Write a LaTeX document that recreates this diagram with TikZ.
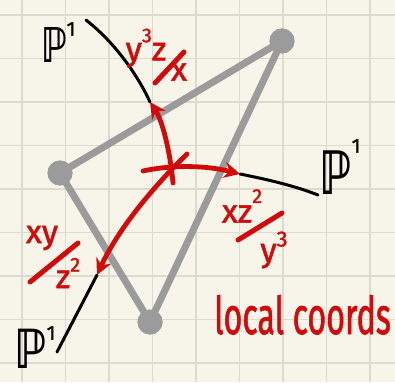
\documentclass[tikz,border=0pt]{standalone}
\usepackage{fontspec}
\usepackage{graphicx}
\setmainfont{Fira Sans}
\newfontfamily\hand[FakeBold=1.5]{Fira Sans}
\newfontfamily\dbl{DejaVu Sans}
\usetikzlibrary{arrows.meta}
\definecolor{paper}{HTML}{F7F5E9}
\definecolor{gridc}{HTML}{DDDBD0}
\definecolor{tri}{HTML}{9B9B9B}
\definecolor{ink}{HTML}{D20A0A}
\newcommand{\bbP}[2]{\raisebox{0pt}[\height][0pt]{\scalebox{#1}[1]{\dbl\bfseries\fontsize{#2}{#2}\selectfont ℙ}}}
\begin{document}
\begin{tikzpicture}[x=1pt,y=-1pt,
  gridline/.style={draw=gridc,line width=1.3pt},
  edge/.style={draw=tri,line width=7pt},
  vert/.style={circle,fill=tri,minimum size=25pt,inner sep=0pt},
  curveb/.style={draw=black,line width=3pt,line cap=round},
  curver/.style={draw=ink,line width=4.8pt,line cap=round},
  arr/.style={-{Stealth[length=16pt,width=16pt]}},
  redlbl/.style={text=ink,font=\hand\fontsize{33}{33}\selectfont,inner sep=0pt},
  slashr/.style={draw=ink,line width=5pt,line cap=round},
  plabel/.style={inner sep=0pt,anchor=base},
  onelbl/.style={inner sep=0pt,font=\hand\fontsize{20}{20}\selectfont}
]
\useasboundingbox (0,0) rectangle (395,382);
\fill[paper] (0,0) rectangle (395,382);
\foreach \i in {0,...,8} {
  \draw[gridline] ({22+43.5*\i},0) -- ({22+43.5*\i},382);
  \draw[gridline] (0,{15+43.5*\i}) -- (395,{15+43.5*\i});
}
% triangle
\node[vert] (A) at (282,41) {};
\node[vert] (B) at (60,173) {};
\node[vert] (C) at (150,322) {};
\draw[edge] (A.center) -- (B.center) -- (C.center) -- cycle;
\node[vert] at (A) {};
\node[vert] at (B) {};
\node[vert] at (C) {};
% curve points
\coordinate (t0) at (86,20);
\coordinate (t1) at (150,102);
\coordinate (v0) at (173,183);
\coordinate (h0) at (143,171);
\coordinate (h1) at (240,174);
\coordinate (r1) at (318,195);
\coordinate (d0) at (187,154);
\coordinate (d1) at (97,275);
\coordinate (b1) at (57,352);
% black parts
\draw[curveb] (t0) .. controls (118,45) and (140,80) .. (t1);
\draw[curveb] (h1) .. controls (270,180) and (295,186) .. (r1);
\draw[curveb] (d1) -- (b1);
% red parts
\draw[curver,arr] (v0) .. controls (170,150) and (162,120) .. (t1);
\draw[curver,arr] (h0) .. controls (170,165) and (205,165) .. (h1);
\draw[curver,arr] (d0) .. controls (160,180) and (120,225) .. (d1);
% red fraction labels
\node[redlbl] (n1) at (146,48) {y\raisebox{0.55em}{\fontsize{20}{20}\selectfont 3}z};
\node[redlbl] (q1) at (179,72) {x};
\coordinate (s1a) at (155,83);
\coordinate (s1b) at (184,52);
\draw[slashr] (s1a) -- (s1b);

\node[redlbl] (n2) at (242,206) {xz\raisebox{0.6em}{\fontsize{20}{20}\selectfont 2}};
\node[redlbl] (q2) at (274,250) {y\raisebox{0.45em}{\fontsize{22}{22}\selectfont 3}};
\coordinate (s2a) at (238,240);
\coordinate (s2b) at (282,213);
\draw[slashr] (s2a) -- (s2b);

\node[redlbl] (n3) at (42,238) {xy};
\node[redlbl] (q3) at (68,273) {z\raisebox{0.5em}{\fontsize{20}{20}\selectfont 2}};
\coordinate (s3a) at (30,282);
\coordinate (s3b) at (78,243);
\draw[slashr] (s3a) -- (s3b);

% P^1 labels
\node[plabel] (p1) at (54,63) {\bbP{0.72}{48}};
\node[onelbl] (o1) at (71,29) {1};
\node[plabel] (p2) at (336,194) {\bbP{0.72}{60}};
\node[onelbl] (o2) at (356,146) {1};
\node[plabel] (p3) at (31,368) {\bbP{0.8}{54}};
\node[onelbl] (o3) at (51,333) {1};

% caption
\node[text=ink,font=\hand\fontsize{52}{52}\selectfont,inner sep=0pt,anchor=base west] (cap) at (214,334) {\scalebox{0.62}[1]{local coords}};
\end{tikzpicture}
\end{document}
